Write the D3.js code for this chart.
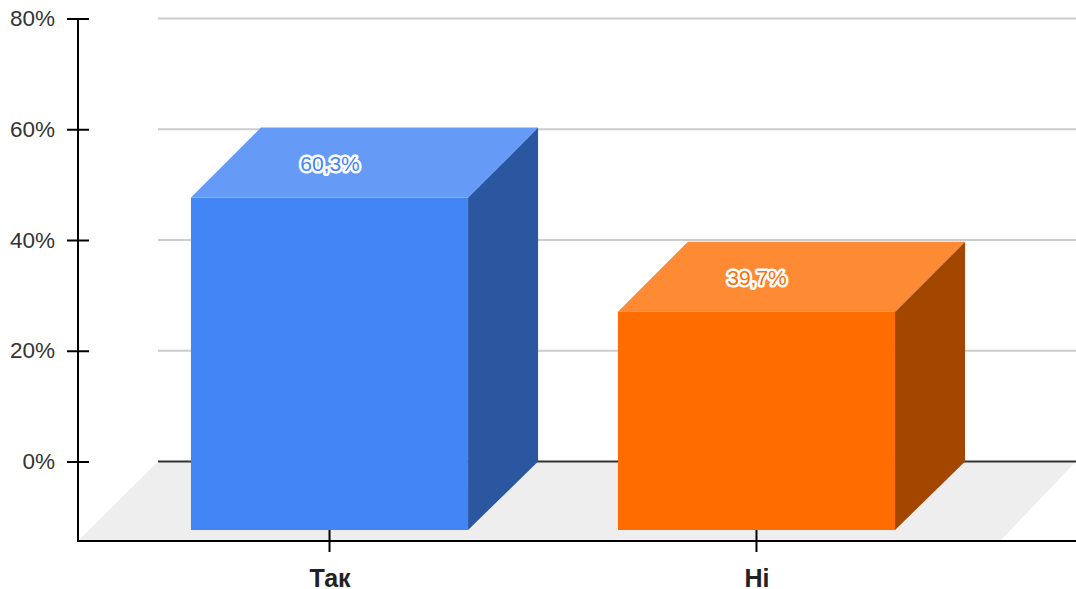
<!DOCTYPE html>
<html><head><meta charset="utf-8">
<script src="https://cdn.jsdelivr.net/npm/d3@7"></script>
<style>html,body{margin:0;padding:0;background:#fff}svg{display:block}text{font-family:"Liberation Sans",Arial,sans-serif}</style>
</head><body><svg id="c" width="1076" height="589"></svg>
<script>
const categories = ["Так", "Ні"];
const values = [60.3, 39.7];
const valueLabels = ["60,3%", "39,7%"];
const yTicks = [0, 20, 40, 60, 80];
const frontColors = ["#4285f4", "#ff6d01"];
const topColors = ["#659bf6", "#ff8a34"];
const sideColors = ["#2b56a0", "#a34600"];

const svg = d3.select("#c");
const dx = 70, dy = 70;
const y = d3.scaleLinear().domain([0, 80]).range([461.5, 18.5]);
const x = d3.scaleBand().domain(categories).range([116.25, 969.75]).paddingInner(0.351).paddingOuter(0.175);
const poly = pts => pts.map(p => p.join(",")).join(" ");

// floor
svg.append("polygon").attr("points", poly([[78,541],[158,y(0)],[1076,y(0)],[1000,541]])).attr("fill", "#eeeeee");

// gridlines
svg.append("g").selectAll("line").data(yTicks).join("line")
  .attr("x1", 158).attr("x2", 1076)
  .attr("y1", d => y(d)).attr("y2", d => y(d))
  .attr("stroke", d => d === 0 ? "#333333" : "#cccccc").attr("stroke-width", 2);

// y axis
const gy = svg.append("g").attr("transform", "translate(78,0)")
  .call(d3.axisLeft(y).tickValues(yTicks).tickFormat(d => d + "%").tickSize(0).tickPadding(23));
gy.select(".domain").remove();
gy.selectAll("text").attr("font-size", 22.5).attr("fill", "#333333").style("font-family", '"Liberation Sans",Arial,sans-serif');
gy.selectAll(".tick").append("line").attr("x1", -11).attr("x2", 11).attr("stroke", "#000").attr("stroke-width", 2);
svg.append("line").attr("x1", 78).attr("x2", 78).attr("y1", y(80)).attr("y2", 542).attr("stroke", "#000").attr("stroke-width", 2);

// x axis
const gx = svg.append("g").attr("transform", "translate(0,541)")
  .call(d3.axisBottom(x).tickSize(0).tickPadding(28));
gx.select(".domain").remove();
gx.selectAll("text").attr("font-size", 25).attr("font-weight", "bold").attr("fill", "#222222").attr("dx", 0.5).style("font-family", '"Liberation Sans",Arial,sans-serif');
gx.selectAll(".tick").append("line").attr("y1", -11).attr("y2", 11).attr("stroke", "#000").attr("stroke-width", 2);
svg.append("line").attr("x1", 77).attr("x2", 1076).attr("y1", 541).attr("y2", 541).attr("stroke", "#000").attr("stroke-width", 2);

// bars
const bars = svg.append("g").selectAll("g").data(categories).join("g");
const base = 530;
bars.each(function (c, i) {
  const g = d3.select(this), x0 = x(c), x1 = x0 + x.bandwidth(), back = y(values[i]), top = back + dy;
  g.append("polygon").attr("points", poly([[x1,top],[x1+dx,back],[x1+dx,y(0)],[x1,base]])).attr("fill", sideColors[i]);
  g.append("polygon").attr("points", poly([[x0,top],[x0+dx,back],[x1+dx,back],[x1,top]])).attr("fill", topColors[i]);
  g.append("rect").attr("x", x0).attr("y", top).attr("width", x1 - x0).attr("height", base - top).attr("fill", frontColors[i]);
  g.append("text").text(valueLabels[i]).attr("x", x0 + x.bandwidth() / 2 + 0.5).attr("y", back + dy / 2 + 8)
    .attr("text-anchor", "middle").attr("font-size", 21).attr("fill", frontColors[i])
    .attr("stroke", "#fff").attr("stroke-width", 5).attr("stroke-linejoin", "round").attr("paint-order", "stroke");
});
</script></body></html>
